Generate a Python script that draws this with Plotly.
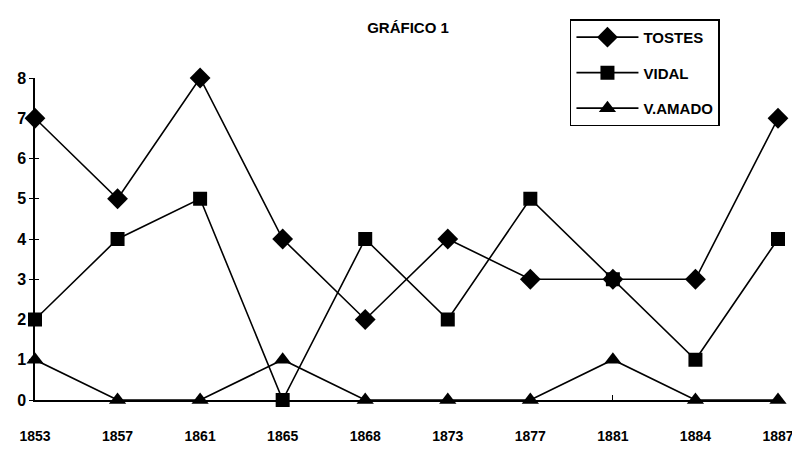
import plotly.graph_objects as go

years = ["1853", "1857", "1861", "1865", "1868", "1873", "1877", "1881", "1884", "1887"]
tostes = [7, 5, 8, 4, 2, 4, 3, 3, 3, 7]
vidal = [2, 4, 5, 0, 4, 2, 5, 3, 1, 4]
v_amado = [1, 0, 0, 1, 0, 0, 0, 1, 0, 0]

series = [
    ("TOSTES", tostes, "diamond", 16),
    ("VIDAL", vidal, "square", 14),
    ("V.AMADO", v_amado, "triangle-up", 15),
]

FONT = "Liberation Sans Narrow, Arial Narrow, Liberation Sans, Arial, sans-serif"

fig = go.Figure()
for name, vals, sym, size in series:
    fig.add_trace(go.Scatter(
        x=years, y=vals, name=name, mode="lines+markers",
        line=dict(color="black", width=1.6),
        marker=dict(symbol=sym, size=size, color="black"),
        cliponaxis=False, legendgroup=name,
    ))

fig.update_layout(
    width=800, height=449,
    paper_bgcolor="white", plot_bgcolor="white",
    margin=dict(l=27, r=30, t=70, b=57, autoexpand=False),
    title=dict(text="<b>GRÁFICO 1</b>", x=0.5, xanchor="center", y=0.955, yanchor="middle",
               font=dict(family=FONT, size=15, color="black")),
    font=dict(family=FONT, color="black"),
    showlegend=True,
    legend=dict(x=0.72, xanchor="left", y=1.182, yanchor="top",
                bordercolor="black", borderwidth=1.5, bgcolor="white",
                font=dict(family=FONT, size=15, color="black", weight="bold"),
                tracegroupgap=13, itemwidth=62),
    xaxis=dict(type="category", range=[0, 9], showgrid=False, zeroline=False,
               showline=True, linecolor="black", linewidth=1.5, automargin=False,
               ticks="inside", ticklen=5, tickcolor="black", tickwidth=1,
               tickfont=dict(family=FONT, size=14, color="black", weight="bold"),
               ticklabelstandoff=22),
    yaxis=dict(range=[0, 8], dtick=1, showgrid=False, zeroline=False,
               showline=True, linecolor="black", linewidth=1.5, automargin=False,
               ticks="outside", ticklen=4, tickcolor="black", tickwidth=1.2,
               tickfont=dict(family=FONT, size=16, color="black", weight="bold")),
    yaxis2=dict(range=[0, 8], dtick=1, overlaying="y", side="left", automargin=False,
                showgrid=False, zeroline=False, showline=False,
                ticks="inside", ticklen=4, tickcolor="black", tickwidth=1.2,
                showticklabels=False),
)
# invisible trace to activate yaxis2 ticks
fig.add_trace(go.Scatter(x=years, y=tostes, yaxis="y2", mode="lines",
                         line=dict(width=0), showlegend=False, hoverinfo="skip"))

fig.write_html("out.html")
